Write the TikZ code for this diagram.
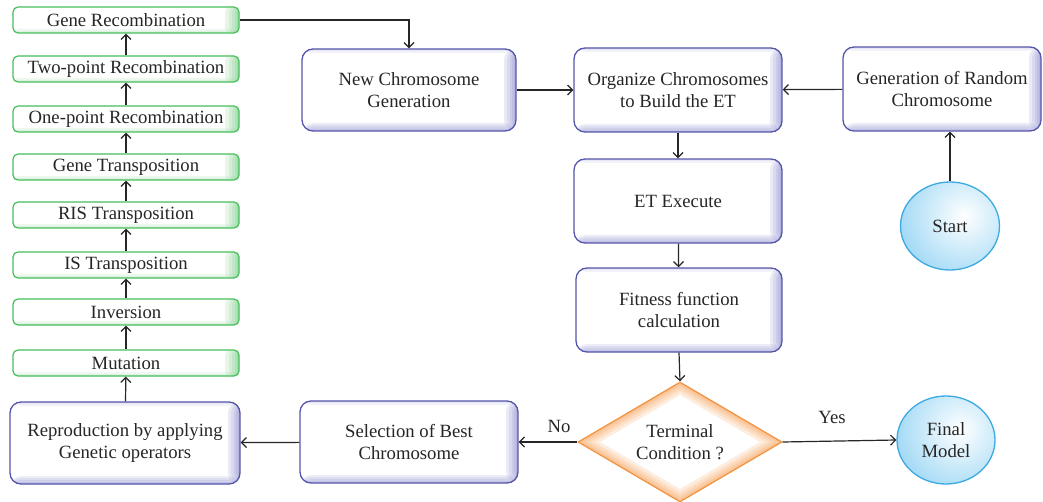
\documentclass[tikz,border=0pt]{standalone}
\usepackage{fontspec}
\setmainfont{Liberation Serif}
\usetikzlibrary{arrows.meta,shapes.geometric,calc}
\definecolor{bbord}{RGB}{85,85,170}
\definecolor{bshade}{RGB}{130,130,205}
\definecolor{gbord}{RGB}{70,190,90}
\definecolor{gshade}{RGB}{95,195,110}
\definecolor{cbord}{RGB}{60,170,225}
\definecolor{cshade}{RGB}{95,190,238}
\definecolor{obord}{RGB}{240,150,70}
\definecolor{oshade}{RGB}{250,175,110}
\tikzset{
  txt/.style={font=\fontsize{18.7}{22.5}\selectfont, text=black!85, align=center, inner sep=0pt},
  bluebox/.style={txt, draw=bbord, line width=1.3pt, rounded corners=11pt, fill=white,
    path picture={
      \foreach \w in {12,9,6,4,2} {
        \fill[bshade, opacity=.16] ([xshift=-\w pt]path picture bounding box.north east) rectangle (path picture bounding box.south east);
      }
      \foreach \w in {8,6,4,2} {
        \fill[bshade, opacity=.14] ([yshift=\w pt]path picture bounding box.south west) rectangle (path picture bounding box.south east);
      }
      \foreach \w in {4,2} {
        \fill[bshade, opacity=.10] ([yshift=-\w pt]path picture bounding box.north west) rectangle (path picture bounding box.north east);
      }
    }},
  greenbox/.style={txt, draw=gbord, line width=1.2pt, rounded corners=5pt, fill=white,
    minimum width=226pt, minimum height=26pt,
    path picture={
      \foreach \w in {14,10,7,4,2} {
        \fill[gshade, opacity=.15] ([xshift=-\w pt]path picture bounding box.north east) rectangle (path picture bounding box.south east);
      }
      \foreach \w in {4,2} {
        \fill[gshade, opacity=.10] ([yshift=\w pt]path picture bounding box.south west) rectangle (path picture bounding box.south east);
      }
    }},
  circ/.style={txt, ellipse, draw=cbord, line width=1.3pt, minimum width=99pt, minimum height=88pt,
    path picture={
      \shade[inner color=white, outer color=cshade] ([xshift=14pt,yshift=10pt]path picture bounding box.center) circle (112pt);
    }},
  decision/.style={txt, diamond, draw=obord, line width=1.3pt, minimum width=204pt, minimum height=120pt, aspect=1.7, fill=white,
    path picture={
      \foreach \w in {22,16,11,7,4} {
        \draw[oshade, line width=\w pt, opacity=.22, line join=miter]
          (path picture bounding box.north) -- (path picture bounding box.east) --
          (path picture bounding box.south) -- (path picture bounding box.west) -- cycle;
      }
    }},
  arr/.style={-{Straight Barb[length=5pt,width=10pt]}, line width=1.2pt, draw=black!85},
  lbl/.style={font=\fontsize{18.7}{22.5}\selectfont, text=black!85, inner sep=0pt}
}
\begin{document}
\begin{tikzpicture}[x=1pt,y=-1pt]
\useasboundingbox (0,0) rectangle (1043,502);
% left column
\node[greenbox] (gr)  at (126,20)  {Gene Recombination};
\node[greenbox] (tp)  at (126,69)  {Two-point Recombination};
\node[greenbox] (op)  at (126,119) {One-point Recombination};
\node[greenbox] (gt)  at (126,167) {Gene Transposition};
\node[greenbox] (ris) at (126,215) {RIS Transposition};
\node[greenbox] (ist) at (126,265) {IS Transposition};
\node[greenbox] (inv) at (126,312) {Inversion};
\node[greenbox] (mut) at (126,363) {Mutation};
\node[bluebox, minimum width=230pt, minimum height=82pt] (rep) at (125,443) {Reproduction by applying\\Genetic operators};
% main blocks
\node[bluebox, minimum width=214pt, minimum height=82pt] (newc) at (409,90) {New Chromosome\\Generation};
\node[bluebox, minimum width=208pt, minimum height=84pt] (org) at (678,90) {Organize Chromosomes\\to Build the ET};
\node[bluebox, minimum width=198pt, minimum height=84pt] (rand) at (942,89) {Generation of Random\\Chromosome};
\node[bluebox, minimum width=208pt, minimum height=84pt] (et) at (678,201) {ET Execute};
\node[bluebox, minimum width=206pt, minimum height=84pt] (fit) at (679,310) {Fitness function\\calculation};
\node[bluebox, minimum width=218pt, minimum height=82pt] (sel) at (409,442) {Selection of Best\\Chromosome};
\node[circ] (start) at (950,226) {Start};
\node[circ, minimum width=98pt] (final) at (946,440) {Final\\Model};
\node[decision] (term) at (680,442) {Terminal\\Condition ?};
% connectors
\draw[arr] (rep) -- (mut);
\draw[arr] (mut) -- (inv);
\draw[arr] (inv) -- (ist);
\draw[arr] (ist) -- (ris);
\draw[arr] (ris) -- (gt);
\draw[arr] (gt) -- (op);
\draw[arr] (op) -- (tp);
\draw[arr] (tp) -- (gr);
\draw[arr] (gr.east) -| (newc.north);
\draw[arr] (newc) -- (org);
\draw[arr] (rand) -- (org);
\draw[arr] (start.north) -- (start.north |- rand.south);
\draw[arr] (org) -- (et);
\draw[arr] (et) -- (fit);
\draw[arr] (fit.south) -- (term.north);
\draw[arr] (term.east) -- (final.west);
\draw[arr] (term.west) -- (sel.east);
\draw[arr] (sel) -- (rep);
\node[lbl] (yes) at (832,417) {Yes};
\node[lbl] (no) at (559,426) {No};
\end{tikzpicture}
\end{document}
